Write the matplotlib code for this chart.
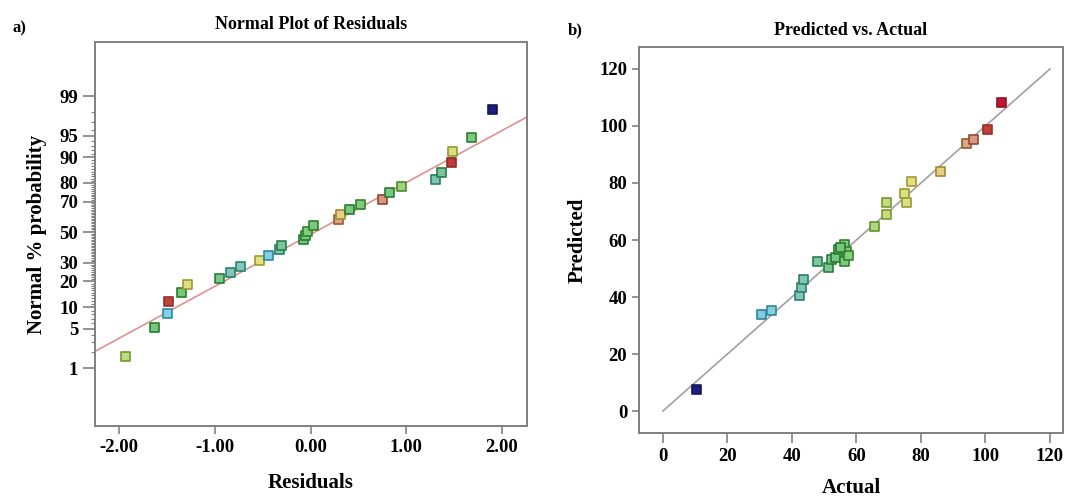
import matplotlib
matplotlib.use("Agg")
import matplotlib.pyplot as plt
from matplotlib.colors import LinearSegmentedColormap
from statistics import NormalDist

plt.rcParams['font.family'] = ['Liberation Serif', 'DejaVu Serif']
plt.rcParams['font.weight'] = 'bold'

# a) normal plot of residuals
residuals = [-1.93, -1.63, -1.49, -1.48, -1.35, -1.28, -0.95, -0.84, -0.73, -0.53,
             -0.44, -0.32, -0.30, -0.07, -0.05, -0.03, 0.03, 0.29, 0.31, 0.41,
             0.52, 0.75, 0.82, 0.95, 1.31, 1.37, 1.47, 1.48, 1.68, 1.90]
probability = [1.70, 5.19, 8.25, 11.8, 15.1, 18.6, 21.4, 24.5, 27.8, 31.4,
               34.5, 38.3, 40.9, 44.9, 47.6, 50.3, 54.4, 58.4, 61.7, 64.9,
               68.0, 71.0, 75.0, 78.1, 81.4, 84.5, 88.2, 91.5, 94.8, 98.2]
resid_response = [68, 55, 32, 100, 55, 76, 52, 43, 42, 77,
                  33, 44, 50, 53, 55, 57, 56, 94, 86, 55,
                  57, 97, 54, 62, 44, 50, 101, 75, 56, 10]
fit_resid = [-2.25, 2.26]
fit_prob = [2.09, 97.55]
prob_ticks = [1, 5, 10, 20, 30, 50, 70, 80, 90, 95, 99]
resid_ticks = [-2.0, -1.0, 0.0, 1.0, 2.0]

# b) predicted vs actual
actual = [10.5, 30.7, 33.8, 42.5, 43.1, 43.7, 47.8, 51.2, 52.4, 53.6,
          54.3, 56.4, 57.0, 56.4, 57.5, 55.2, 65.7, 69.4, 69.4, 75.0,
          75.6, 77.2, 86.2, 94.0, 96.4, 100.5, 105.1]
predicted = [7.6, 34.0, 35.1, 40.7, 43.2, 46.0, 52.3, 50.5, 53.0, 54.0,
             56.5, 58.5, 55.8, 52.6, 54.5, 57.5, 64.6, 69.1, 73.3, 76.4,
             73.3, 80.4, 84.2, 93.7, 95.4, 98.6, 108.4]
diag = [0, 120]
ab_ticks = [0, 20, 40, 60, 80, 100, 120]

nd = NormalDist()
def z(p):
    return nd.inv_cdf(p / 100.0)

anchors = [(10, '#1c1c7a'), (32, '#40b8d8'), (43, '#3aa890'), (55, '#30a838'),
           (68, '#98c83c'), (78, '#d8d040'), (88, '#d8b040'), (95, '#c07040'),
           (105, '#c01830')]
cmap = LinearSegmentedColormap.from_list(
    'dx', [((v - 10) / 95.0, c) for v, c in anchors])

def colors(vals):
    edges, faces = [], []
    for v in vals:
        c = cmap(min(max((v - 10) / 95.0, 0.0), 1.0))[:3]
        edges.append(tuple(x * 0.75 for x in c))
        if v < 15 or v > 98:
            faces.append(c)
        else:
            faces.append(tuple(x + (1 - x) * 0.35 for x in c))
    return faces, edges

fig = plt.figure(figsize=(10.65, 4.97), dpi=100)
ax1 = fig.add_axes([0.0892, 0.1429, 0.4056, 0.7726])
ax2 = fig.add_axes([0.6000, 0.1288, 0.3980, 0.7766])

spine_c = '#808080'
for ax in (ax1, ax2):
    for s in ax.spines.values():
        s.set_color(spine_c)
        s.set_linewidth(1.4)
    ax.tick_params(direction='out', color=spine_c, width=1.2, length=5,
                   labelsize=13.5)

# left panel
ax1.plot(fit_resid, [z(p) for p in fit_prob], color='#e09090', lw=1.2, zorder=1)
f, e = colors(resid_response)
ax1.scatter(residuals, [z(p) for p in probability], marker='s', s=42,
            c=f, edgecolors=e, linewidths=1.2, zorder=3)
ax1.set_xlim(-2.25, 2.26)
ax1.set_ylim(-3.31, 3.25)
ax1.set_xticks(resid_ticks)
ax1.set_xticklabels([f"{t:.2f}" for t in resid_ticks], fontweight='bold')
ax1.set_yticks([z(p) for p in prob_ticks])
ax1.set_yticklabels([str(p) for p in prob_ticks], fontweight='bold')
ax1.set_yticks([z(p) for p in range(2, 99) if p not in prob_ticks], minor=True)
ax1.tick_params(axis='y', which='minor', direction='out', length=3,
                color=spine_c, width=0.8)
ax1.tick_params(axis='y', which='major', length=9, pad=3)
ax1.tick_params(axis='x', length=6)
ax1.set_title("Normal Plot of Residuals", fontsize=13, fontweight='bold', pad=9)
ax1.set_xlabel("Residuals", fontsize=15, fontweight='bold', labelpad=12)
ax1.set_ylabel("Normal % probability", fontsize=15, fontweight='bold', labelpad=9)

# right panel
ax2.plot(diag, diag, color='#a0a0a0', lw=1.2, zorder=1)
f, e = colors(actual)
ax2.scatter(actual, predicted, marker='s', s=42, c=f, edgecolors=e,
            linewidths=1.2, zorder=3)
ax2.set_xlim(-7.4, 124.0)
ax2.set_ylim(-7.7, 127.7)
ax2.set_xticks(ab_ticks)
ax2.set_xticklabels([str(t) for t in ab_ticks], fontweight='bold')
ax2.set_yticks(ab_ticks)
ax2.set_yticklabels([str(t) for t in ab_ticks], fontweight='bold')
ax2.tick_params(axis='x', length=7)
ax2.set_title("Predicted vs. Actual", fontsize=13, fontweight='bold', pad=9)
ax2.set_xlabel("Actual", fontsize=15, fontweight='bold', labelpad=10)
ax2.set_ylabel("Predicted", fontsize=15, fontweight='bold', labelpad=8)

fig.text(0.012, 0.935, "a)", fontsize=12, fontweight='bold')
fig.text(0.533, 0.93, "b)", fontsize=12, fontweight='bold')

fig.savefig("out.png", dpi=100)
